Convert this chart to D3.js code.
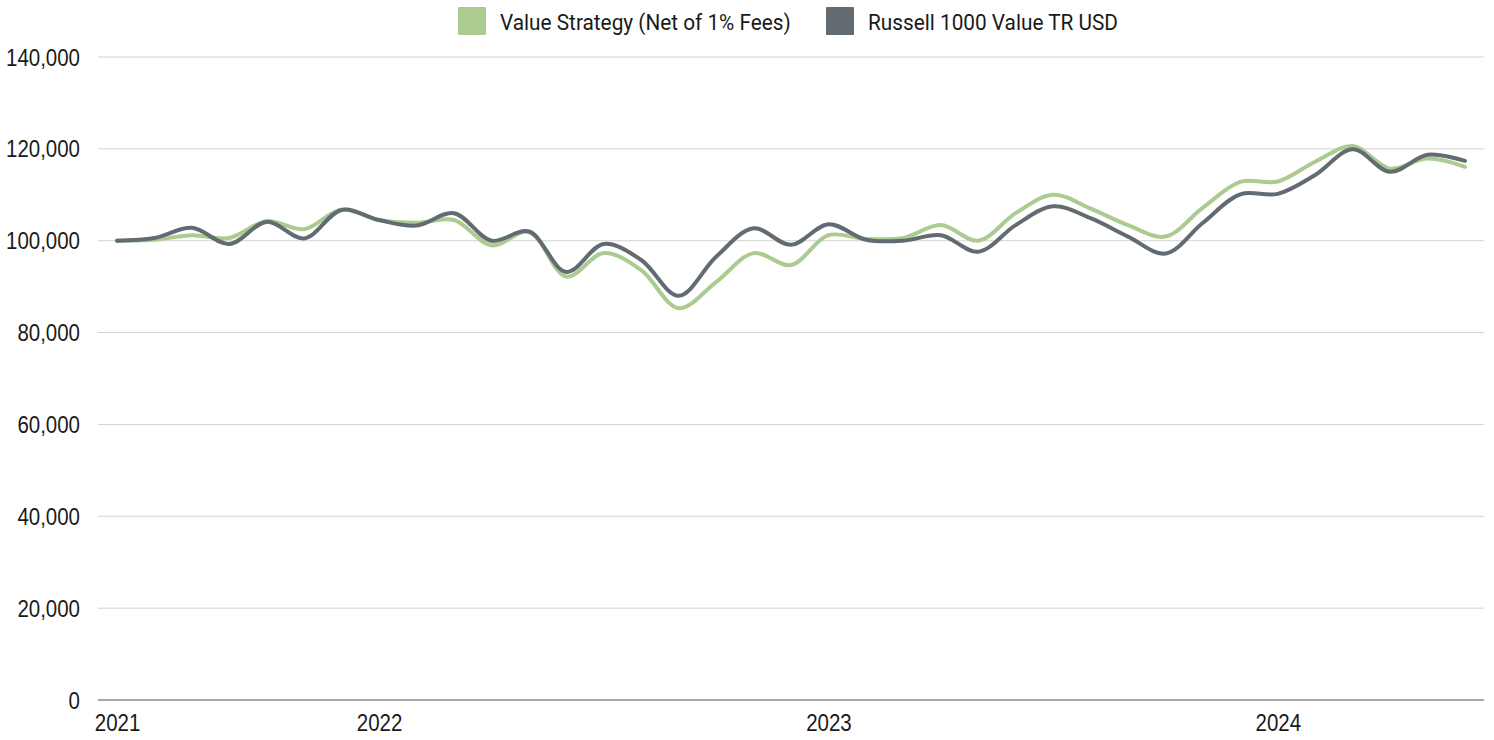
<!DOCTYPE html>
<html>
<head>
<meta charset="utf-8">
<script src="https://cdn.jsdelivr.net/npm/d3@7"></script>
<style>
  body { margin: 0; background: #fff; }
  svg { font-family: Roboto, "Noto Sans", sans-serif; }
  .grid line { stroke: #d3d3d3; stroke-width: 1; }
  .axis text { font-size: 23px; fill: #1a1a1a; }
  .legend text { font-size: 22px; fill: #1a1a1a; }
</style>
</head>
<body>
<svg id="chart" width="1494" height="740"></svg>
<script>
// monthly, Jun 2021 .. Jun 2024
const months = d3.range(37);
const yearTicks = [0, 7, 19, 31];
const yearLabels = ["2021", "2022", "2023", "2024"];
const yTicks = [0, 20000, 40000, 60000, 80000, 100000, 120000, 140000];

const strategy = [
  100.0, 100.2, 101.2, 100.6, 104.3, 102.5, 106.8, 104.5, 103.9, 104.5,
  99.0, 101.9, 92.2, 97.3, 93.6, 85.3, 91.0, 97.3, 94.7, 101.2,
  100.4, 100.6, 103.4, 100.0, 106.0, 110.0, 107.0, 103.4, 100.9, 107.2,
  112.8, 112.9, 117.2, 120.6, 115.7, 117.9, 116.1
];
const benchmark = [
  100.0, 100.6, 102.8, 99.3, 104.1, 100.5, 106.7, 104.5, 103.3, 106.0,
  100.0, 102.0, 93.2, 99.3, 95.8, 88.0, 96.5, 102.7, 99.1, 103.6,
  100.2, 100.0, 101.2, 97.6, 103.4, 107.5, 104.9, 100.9, 97.2, 103.9,
  110.1, 110.2, 114.3, 119.9, 115.0, 118.7, 117.4
];

const seriesNames = ["Value Strategy (Net of 1% Fees)", "Russell 1000 Value TR USD"];
const seriesColors = ["#abcb91", "#626b71"];

const plotLeft = 98, plotRight = 1484, plotTop = 57, plotBottom = 700;
// no condensed font installed, so squeeze Roboto a bit
const axisSqueeze = "scale(0.89,1)";
const legendSqueeze = "scale(0.945,1)";

const svg = d3.select("#chart");

const x = d3.scalePoint().domain(months).range([117, 1465]);
const y = d3.scaleLinear().domain([0, 140000]).range([plotBottom, plotTop]);

// gridlines
svg.append("g").attr("class", "grid")
  .selectAll("line").data(yTicks.filter(d => d > 0))
  .enter().append("line")
  .attr("x1", plotLeft).attr("x2", plotRight)
  .attr("y1", d => y(d)).attr("y2", d => y(d));

svg.append("line")
  .attr("x1", plotLeft).attr("x2", plotRight)
  .attr("y1", y(0)).attr("y2", y(0))
  .attr("stroke", "#8a8a8a").attr("stroke-width", 1.3);

// y axis labels
const yAxis = d3.axisLeft(y).tickValues(yTicks).tickSize(0).tickPadding(0)
  .tickFormat(d3.format(","));
svg.append("g").attr("class", "axis y")
  .attr("transform", "translate(80,0)")
  .call(yAxis)
  .call(g => g.select(".domain").remove())
  .selectAll("text")
  .attr("dy", "0.35em")
  .attr("transform", axisSqueeze);

// x axis labels
const xAxis = d3.axisBottom(x).tickValues(yearTicks).tickSize(0).tickPadding(0)
  .tickFormat((d, i) => yearLabels[i]);
svg.append("g").attr("class", "axis x")
  .attr("transform", "translate(0,715)")
  .call(xAxis)
  .call(g => g.select(".domain").remove())
  .selectAll("text")
  .attr("transform", axisSqueeze);

// lines
const line = d3.line()
  .x((d, i) => x(months[i]))
  .y(d => y(d * 1000))
  .curve(d3.curveCatmullRom.alpha(0.5));

[strategy, benchmark].forEach((data, k) => {
  svg.append("path")
    .datum(data)
    .attr("fill", "none")
    .attr("stroke", seriesColors[k])
    .attr("stroke-width", 4)
    .attr("stroke-linejoin", "round")
    .attr("stroke-linecap", "round")
    .attr("d", line);
});

// legend
const legendX = [458, 826];
const legend = svg.append("g").attr("class", "legend");
seriesNames.forEach((name, k) => {
  legend.append("rect")
    .attr("x", legendX[k]).attr("y", 7)
    .attr("width", 28).attr("height", 28)
    .attr("rx", 1)
    .attr("fill", seriesColors[k]);
  legend.append("g")
    .attr("transform", "translate(" + (legendX[k] + 42) + ",30)")
    .append("text")
    .attr("transform", legendSqueeze)
    .text(name);
});
</script>
</body>
</html>
